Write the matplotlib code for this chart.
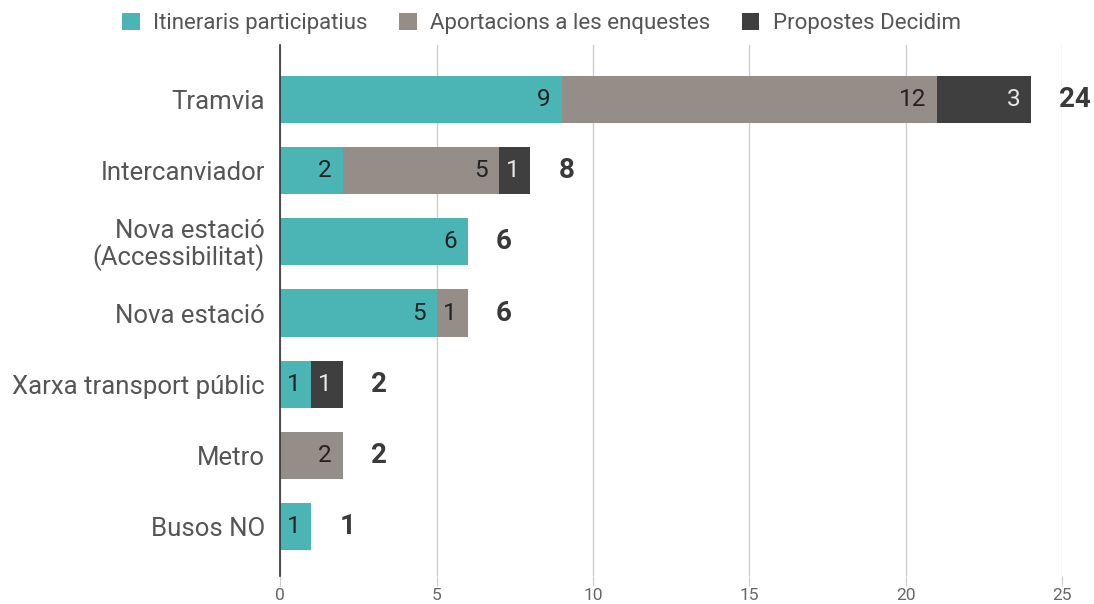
import matplotlib.pyplot as plt
import numpy as np
from matplotlib.patches import Patch

plt.rcParams['font.family'] = ['Roboto', 'DejaVu Sans']

categories = ["Tramvia", "Intercanviador", "Nova estació\n(Accessibilitat)",
              "Nova estació", "Xarxa transport públic", "Metro", "Busos NO"]
itineraris = [9, 2, 6, 5, 1, 0, 1]
aportacions = [12, 5, 0, 1, 0, 2, 0]
propostes = [3, 1, 0, 0, 1, 0, 0]
series_names = ["Itineraris participatius", "Aportacions a les enquestes", "Propostes Decidim"]
colors = ["#4bb5b6", "#958d88", "#3f3f3f"]
label_colors = ["#222222", "#222222", "#e8e8e8"]
xticks = [0, 5, 10, 15, 20, 25]

fig = plt.figure(figsize=(10.94, 6.04), dpi=100)
# axes spans roughly y=45..576 px, x=280..1062 px
ax = fig.add_axes([0.256, 0.0464, 0.715, 0.879])

y = np.arange(len(categories))
left = np.zeros(len(categories))
for vals, col, lc in zip([itineraris, aportacions, propostes], colors, label_colors):
    vals = np.array(vals, dtype=float)
    ax.barh(y, vals, left=left, color=col, height=0.66, zorder=3)
    for yi, l, v in zip(y, left, vals):
        if v > 0:
            ax.text(l + v - 0.35, yi, f"{int(v)}", ha="right", va="center",
                    fontsize=17.5, color=lc, zorder=4)
    left += vals

for yi, tot in zip(y, left):
    ax.text(tot + 0.9, yi, f"{int(tot)}", ha="left", va="center",
            fontsize=20, fontweight="bold", color="#3a3a3a")

ax.set_ylim(6.69, -0.76)
ax.set_xlim(0, 25)
ax.set_yticks(y)
ax.set_yticklabels(categories, fontsize=18.5, color="#555555", linespacing=1.05)
ax.set_xticks(xticks)
ax.set_xticklabels([str(t) for t in xticks], fontsize=12.5, color="#666666")
ax.tick_params(axis="y", length=0, pad=11)
ax.tick_params(axis="x", length=7, color="#cccccc", pad=2)
ax.grid(axis="x", color="#cccccc", linewidth=1, zorder=0)
for s in ["top", "right", "bottom"]:
    ax.spines[s].set_visible(False)
ax.spines["left"].set_color("#333333")
ax.spines["left"].set_linewidth(1.2)
ax.spines["left"].set_zorder(5)

handles = [Patch(facecolor=c, edgecolor="none") for c in colors]
fig.legend(handles, series_names, loc="upper center", bbox_to_anchor=(0.495, 1.012),
           ncol=3, frameon=False, fontsize=16, handlelength=0.8, handleheight=0.8,
           handletextpad=0.6, columnspacing=1.4, labelcolor="#555555")

fig.savefig("out.png", dpi=100)
